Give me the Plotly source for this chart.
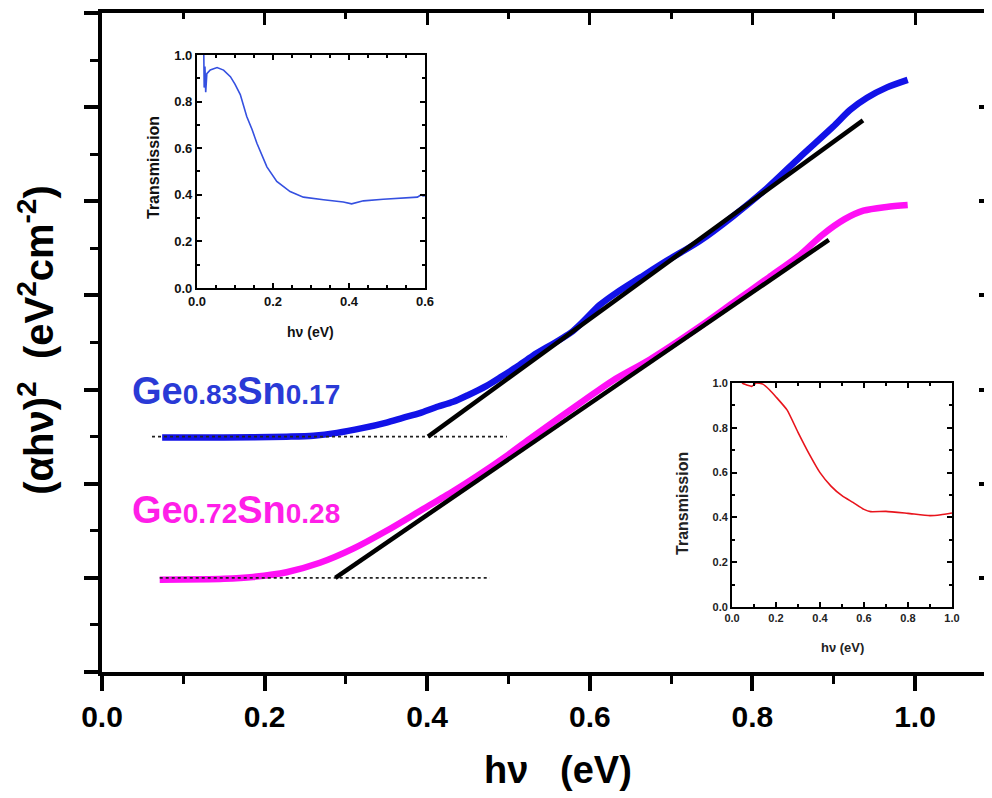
import plotly.graph_objects as go

# ---------------- data ----------------
blue_x = [0.074, 0.15, 0.227, 0.26, 0.289, 0.32, 0.35, 0.37, 0.391, 0.41, 0.432, 0.45, 0.473, 0.49,
          0.51, 0.53, 0.579, 0.6125, 0.633, 0.662, 0.695, 0.7355, 0.776, 0.818, 0.8585, 0.899, 0.92,
          0.941, 0.9655, 0.991]
blue_y = [2.49, 2.49, 2.50, 2.51, 2.54, 2.59, 2.65, 2.70, 2.75, 2.81, 2.87, 2.94, 3.04, 3.13,
          3.24, 3.36, 3.62, 3.90, 4.03, 4.19, 4.37, 4.58, 4.84, 5.14, 5.47, 5.79, 5.97, 6.10, 6.21,
          6.29]

mag_x = [0.071, 0.15, 0.186, 0.227, 0.268, 0.309, 0.35, 0.391, 0.432, 0.461, 0.50, 0.53, 0.592,
         0.629, 0.674, 0.7355, 0.776, 0.82, 0.8585, 0.8855, 0.9135, 0.9365, 0.965, 0.991]
mag_y = [0.98, 0.99, 1.01, 1.06, 1.16, 1.31, 1.50, 1.71, 1.92, 2.08, 2.31, 2.50, 2.88,
         3.10, 3.32, 3.67, 3.92, 4.19, 4.43, 4.64, 4.81, 4.90, 4.94, 4.96]

fit_blue_x = [0.401, 0.936]
fit_blue_y = [2.5, 5.86]
fit_mag_x = [0.287, 0.894]
fit_mag_y = [1.0, 4.59]

base_blue_x = [0.0615, 0.498]
base_blue_y = [2.5, 2.5]
base_mag_x = [0.071, 0.477]
base_mag_y = [1.0, 1.0]

inset1_x = [0.018, 0.019, 0.021, 0.023, 0.026, 0.035, 0.053, 0.07, 0.088, 0.10, 0.114, 0.131, 0.145,
            0.158, 0.184, 0.21, 0.245, 0.28, 0.333, 0.385, 0.407, 0.438, 0.49, 0.543, 0.58, 0.59,
            0.595, 0.6]
inset1_y = [1.0, 0.86, 0.95, 0.84, 0.92, 0.936, 0.946, 0.935, 0.907, 0.875, 0.83, 0.736, 0.68,
            0.62, 0.52, 0.457, 0.414, 0.39, 0.379, 0.369, 0.361, 0.374, 0.381, 0.386, 0.39, 0.40,
            0.395, 0.396]

inset2_x = [0.045, 0.07, 0.09, 0.11, 0.14, 0.17, 0.2, 0.25, 0.3, 0.35, 0.4, 0.45, 0.5, 0.55, 0.6,
            0.63, 0.7, 0.8, 0.9, 0.95, 1.0]
inset2_y = [1.0, 0.99, 0.985, 1.0, 0.995, 0.97, 0.938, 0.88, 0.78, 0.685, 0.6, 0.54, 0.497, 0.467,
            0.436, 0.426, 0.427, 0.418, 0.408, 0.412, 0.42]

label_blue = "Ge<span style='font-size:28px'>0.83</span>Sn<span style='font-size:28px'>0.17</span>"
label_mag = "Ge<span style='font-size:28px'>0.72</span>Sn<span style='font-size:28px'>0.28</span>"

XR = [0, 1.0947]
YR = [0, 7]
FONT = "Liberation Sans, Arial, sans-serif"

fig = go.Figure()

# main curves
fig.add_trace(go.Scatter(x=blue_x, y=blue_y, mode="lines",
                         line=dict(color="#1212e8", width=6.5, shape="spline", smoothing=0.8),
                         showlegend=False, hoverinfo="skip"))
fig.add_trace(go.Scatter(x=mag_x, y=mag_y, mode="lines",
                         line=dict(color="#ff10f5", width=6.5, shape="spline", smoothing=0.8),
                         showlegend=False, hoverinfo="skip"))
# baselines + fits (on overlay axes x2/y2 -> drawn on top)
for bx, by in [(base_blue_x, base_blue_y), (base_mag_x, base_mag_y)]:
    fig.add_trace(go.Scatter(x=bx, y=by, mode="lines", xaxis="x2", yaxis="y2",
                             line=dict(color="#222", width=1.6, dash="dot"),
                             showlegend=False, hoverinfo="skip"))
for fx, fy in [(fit_blue_x, fit_blue_y), (fit_mag_x, fit_mag_y)]:
    fig.add_trace(go.Scatter(x=fx, y=fy, mode="lines", xaxis="x2", yaxis="y2",
                             line=dict(color="black", width=4.5),
                             showlegend=False, hoverinfo="skip"))

# insets
fig.add_trace(go.Scatter(x=inset1_x, y=inset1_y, mode="lines", xaxis="x3", yaxis="y3",
                         line=dict(color="#3550e0", width=1.6), showlegend=False, hoverinfo="skip"))
fig.add_trace(go.Scatter(x=inset2_x, y=inset2_y, mode="lines", xaxis="x4", yaxis="y4",
                         line=dict(color="#e8141c", width=1.6, shape="spline", smoothing=0.5),
                         showlegend=False, hoverinfo="skip"))

main_tick = dict(family=FONT, size=30, color="black", weight="bold")

inset_axis = dict(showline=True, linewidth=2, linecolor="black", mirror="ticks", ticks="inside",
                  ticklen=5, tickwidth=1.5, tickcolor="black", showgrid=False, zeroline=False)

# page body has an 8px margin: figure is placed at (8, 8) in the window
fig.update_layout(
    width=984, height=790,
    margin=dict(l=94, r=0, t=5, b=126, autoexpand=False),
    paper_bgcolor="white", plot_bgcolor="white",
    xaxis=dict(range=XR, domain=[0, 1], showgrid=False, zeroline=False,
               showline=True, linewidth=4, linecolor="black",
               ticks="outside", ticklen=15, tickwidth=3.5, tickcolor="black",
               tickmode="linear", tick0=0, dtick=0.2, tickformat=".1f",
               minor=dict(ticks="outside", ticklen=8, tickwidth=3, dtick=0.1, tick0=0, tickcolor="black"),
               tickfont=main_tick, anchor="y"),
    yaxis=dict(range=YR, domain=[0, 1], showgrid=False, zeroline=False,
               showline=True, linewidth=4, linecolor="black",
               ticks="outside", ticklen=14, tickwidth=3.5, tickcolor="black",
               tickmode="linear", tick0=0, dtick=1, showticklabels=False,
               minor=dict(ticks="outside", ticklen=8, tickwidth=3, dtick=0.5, tick0=0, tickcolor="black"),
               anchor="x"),
    xaxis2=dict(range=XR, overlaying="x", side="top", anchor="y2", showgrid=False, zeroline=False,
                showline=True, linewidth=4, linecolor="black",
                ticks="inside", ticklen=12, tickwidth=3, tickcolor="black",
                tickmode="linear", tick0=0, dtick=0.2, showticklabels=False,
                minor=dict(ticks="inside", ticklen=6, tickwidth=3, dtick=0.1, tick0=0, tickcolor="black")),
    yaxis2=dict(range=YR, overlaying="y", side="right", anchor="x2", showgrid=False, zeroline=False,
                showline=False, ticks="inside", ticklen=13, tickwidth=3.5, tickcolor="black",
                tickmode="linear", tick0=0, dtick=1, showticklabels=False,
                minor=dict(ticks="inside", ticklen=6, tickwidth=3.5, dtick=0.5, tick0=0, tickcolor="black")),
    xaxis3=dict(inset_axis, domain=[0.1067, 0.3629], anchor="y3", range=[0, 0.6],
                tickmode="linear", tick0=0, dtick=0.2, tickformat=".1f",
                minor=dict(ticks="inside", ticklen=3, dtick=0.05, tick0=0, tickcolor="black"),
                tickfont=dict(family=FONT, size=13, color="#111", weight="bold")),
    yaxis3=dict(inset_axis, domain=[0.5827, 0.9363], anchor="x3", range=[0, 1.0],
                tickmode="linear", tick0=0, dtick=0.2, tickformat=".1f",
                minor=dict(ticks="inside", ticklen=3, dtick=0.1, tick0=0, tickcolor="black"),
                tickfont=dict(family=FONT, size=13, color="#111", weight="bold")),
    xaxis4=dict(inset_axis, domain=[0.7079, 0.955], anchor="y4", range=[0, 1.0],
                tickmode="linear", tick0=0, dtick=0.2, tickformat=".1f",
                minor=dict(ticks="inside", ticklen=3, dtick=0.1, tick0=0, tickcolor="black"),
                tickfont=dict(family=FONT, size=11, color="#222", weight="bold")),
    yaxis4=dict(inset_axis, domain=[0.0986, 0.4385], anchor="x4", range=[0, 1.0],
                tickmode="linear", tick0=0, dtick=0.2, tickformat=".1f",
                minor=dict(ticks="inside", ticklen=3, dtick=0.1, tick0=0, tickcolor="black"),
                tickfont=dict(family=FONT, size=11, color="#222", weight="bold")),
)

ann = []
# axis titles
ann.append(dict(text="(αhν)<sup>2</sup>\u00a0\u00a0(eV<sup>2</sup>cm<sup>-2</sup>)", xref="paper", yref="paper",
                x=-0.0742, y=0.504, xanchor="center", yanchor="middle", textangle=-90, showarrow=False,
                font=dict(family=FONT, size=40, color="black", weight="bold")))
ann.append(dict(text="hν\u00a0\u00a0\u00a0(eV)", xref="paper", yref="paper",
                x=0.5124, y=-0.1487, xanchor="center", yanchor="middle", showarrow=False,
                font=dict(family=FONT, size=38, color="black", weight="bold")))
# series labels
ann.append(dict(text=label_blue, xref="x", yref="y", x=0.035, y=2.99, xanchor="left", yanchor="middle",
                showarrow=False, font=dict(family=FONT, size=38, color="#2a3ad6", weight="bold")))
ann.append(dict(text=label_mag, xref="x", yref="y", x=0.035, y=1.72, xanchor="left", yanchor="middle",
                showarrow=False, font=dict(family=FONT, size=38, color="#ff1ee8", weight="bold")))
# inset titles
ann.append(dict(text="Transmission", xref="paper", yref="paper", x=0.0573, y=0.7663, textangle=-90,
                xanchor="center", yanchor="middle", showarrow=False,
                font=dict(family=FONT, size=16, color="#111", weight="bold")))
ann.append(dict(text="hν (eV)", xref="paper", yref="paper", x=0.2348, y=0.5159,
                xanchor="center", yanchor="middle", showarrow=False,
                font=dict(family=FONT, size=14, color="#111", weight="bold")))
ann.append(dict(text="Transmission", xref="paper", yref="paper", x=0.6528, y=0.2565, textangle=-90,
                xanchor="center", yanchor="middle", showarrow=False,
                font=dict(family=FONT, size=16, color="#222", weight="bold")))
ann.append(dict(text="hν (eV)", xref="paper", yref="paper", x=0.8315, y=0.0379,
                xanchor="center", yanchor="middle", showarrow=False,
                font=dict(family=FONT, size=13, color="#222", weight="bold")))
fig.update_layout(annotations=ann)

fig.write_html("out.html")
